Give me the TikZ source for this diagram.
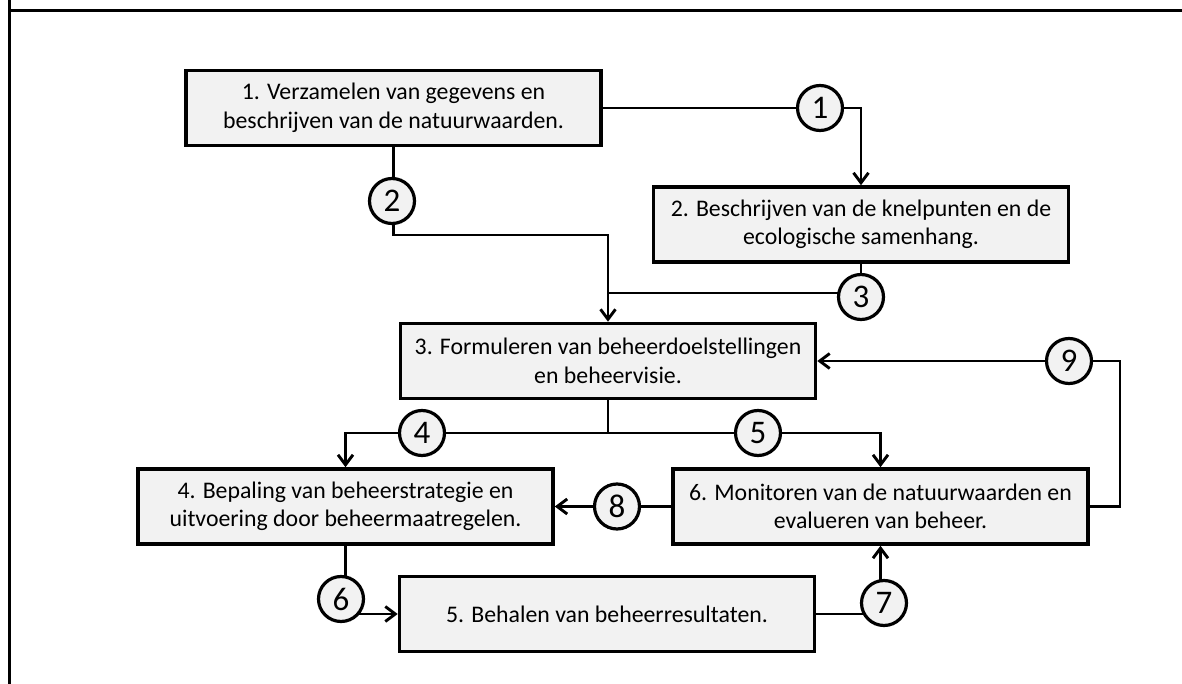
\documentclass[tikz,border=0pt]{standalone}
\usepackage{fontspec}
\setmainfont{Carlito}
\usetikzlibrary{arrows.meta,backgrounds}
\definecolor{boxgray}{HTML}{F2F2F2}
\begin{document}
\begin{tikzpicture}[x=1bp,y=-1bp,
  stepbox/.style={draw,line width=3.6bp,fill=boxgray,minimum width=415bp,minimum height=75bp,align=center,inner sep=0pt,font=\fontsize{23.8bp}{28.5bp}\selectfont},
  num/.style={circle,draw,line width=3.2bp,fill=boxgray,minimum size=45bp,inner sep=0pt,font=\fontsize{33bp}{33bp}\selectfont},
  conn/.style={line width=2.9bp,line join=miter},
  arr/.style={conn,-{Straight Barb[length=10bp,width=15bp]}}]
\useasboundingbox (0,0) rectangle (1182,684);
% frame
\draw[line width=3bp] (9,11) -- (1182,11);
\draw[line width=3bp] (9,0) -- (9,684);
% boxes
\node[stepbox] (b1) at (393.5,108) {1. Verzamelen van gegevens en\\beschrijven van de natuurwaarden.};
\node[stepbox] (b2) at (861,224.5) {2. Beschrijven van de knelpunten en de\\ecologische samenhang.};
\node[stepbox] (b3) at (608,361) {3. Formuleren van beheerdoelstellingen\\en beheervisie.};
\node[stepbox] (b4) at (345.5,506.5) {4. Bepaling van beheerstrategie en\\uitvoering door beheermaatregelen.};
\node[stepbox] (b6) at (880.5,506.5) {6. Monitoren van de natuurwaarden en\\evalueren van beheer.};
\node[stepbox] (b5) at (607,614) {5. Behalen van beheerresultaten.};
% numbered circles
\node[num] (c1) at (820,108) {1};
\node[num] (c2) at (392,201) {2};
\node[num] (c3) at (861,297) {3};
\node[num] (c4) at (422,433) {4};
\node[num] (c5) at (758,433) {5};
\node[num] (c6) at (341,599) {6};
\node[num] (c7) at (884,603) {7};
\node[num] (c8) at (617,506.5) {8};
\node[num] (c9) at (1069,361) {9};
% junction coordinates
\coordinate (j2) at (608,235);
\coordinate (j3) at (608,293);
\coordinate (j4) at (608,433);
\coordinate (k9) at (1120,361);
\begin{scope}[on background layer]
% 1
\draw[conn] (b1.east) -- (c1.center);
\draw[arr] (c1.center) -| (b2.north);
% 2
\draw[conn] (b1.south) -- (b1.south |- c2.center);
\draw[arr] (b1.south |- c2.center) |- (j2) -- (b3.north);
% 3
\draw[conn] (b2.south) -- (b2.south |- c3.center);
\draw[conn] (j3) -- (j3 -| c3.center);
% 4 and 5
\draw[conn] (b3.south) -- (j4);
\draw[arr] (j4) -| (b4.north);
\draw[arr] (j4) -| (b6.north);
% 6
\draw[conn] (b4.south) -- (b4.south |- c6.center);
\draw[arr] (c6.center |- b5.west) -- (b5.west);
% 7
\draw[conn] (b5.east) -- (b5.east -| c7.center);
\draw[arr] (b6.south |- c7.center) -- (b6.south);
% 8
\draw[conn] (b6.west) -- (c8.center);
\draw[arr] (c8.center) -- (b4.east);
% 9
\draw[conn] (b6.east) -| (k9) -- (c9.center);
\draw[arr] (c9.center) -- (b3.east);
\end{scope}
\end{tikzpicture}
\end{document}
